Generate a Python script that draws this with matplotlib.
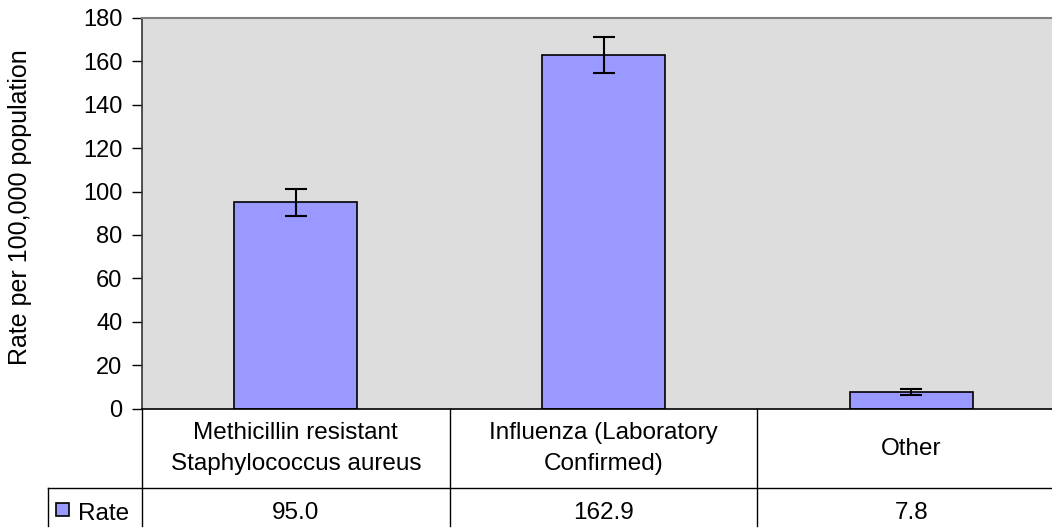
import matplotlib
matplotlib.use("Agg")
import matplotlib.pyplot as plt
from matplotlib.patches import Rectangle

plt.rcParams['font.family'] = ['Liberation Sans', 'DejaVu Sans']

# Data
categories = ["Methicillin resistant\nStaphylococcus aureus",
              "Influenza (Laboratory\nConfirmed)",
              "Other"]
rates = [95.0, 162.9, 7.8]
errors = [6.1, 8.3, 1.4]
rate_labels = ["95.0", "162.9", "7.8"]
yticks = [0, 20, 40, 60, 80, 100, 120, 140, 160, 180]

bar_color = '#9999FF'
bg_color = '#DDDDDD'
fs = 17.5

fig = plt.figure(figsize=(10.52, 5.31), dpi=100)
# axes goes a bit past the right edge, like the original screenshot
ax = fig.add_axes([142/1052, 1 - 408.5/531, 923/1052, 390.5/531])
ax.set_facecolor(bg_color)

x = list(range(len(categories)))
ax.bar(x, rates, width=0.40, color=bar_color, edgecolor='black', linewidth=1.2, zorder=2)
ax.errorbar(x, rates, yerr=errors, fmt='none', ecolor='black', elinewidth=1.5,
            capsize=8, capthick=1.5, zorder=3)

ax.set_xlim(-0.5, 2.5)
ax.set_ylim(0, 180)
ax.set_yticks(yticks)
ax.set_xticks([])
ax.tick_params(axis='y', labelsize=17, length=7, width=1, pad=7, direction='out')
ax.set_ylabel('Rate per 100,000 population', fontsize=18)
ax.yaxis.set_label_coords(-0.119, 0.515)

ax.spines['top'].set_color('#808080')
ax.spines['top'].set_linewidth(1.5)
ax.spines['left'].set_color('#333333')
ax.spines['left'].set_linewidth(1.2)
ax.spines['bottom'].set_color('black')
ax.spines['bottom'].set_linewidth(1.2)
ax.spines['right'].set_visible(False)

# data table under the chart
tr = ax.get_xaxis_transform()
row_line = -0.2036
table_bottom = -0.30
label_left = -0.5 - 94/307.7
for xb in [-0.5, 0.5, 1.5]:
    ax.plot([xb, xb], [0, table_bottom], color='black', lw=1, transform=tr, clip_on=False)
ax.plot([label_left, label_left], [row_line, table_bottom], color='black', lw=1,
        transform=tr, clip_on=False)
ax.plot([label_left, 2.5], [row_line, row_line], color='black', lw=1,
        transform=tr, clip_on=False)

for i, cat in enumerate(categories):
    ax.text(i, -0.103, cat, transform=tr, ha='center', va='center', fontsize=fs,
            linespacing=1.5)
    ax.text(i, -0.2676, rate_labels[i], transform=tr, ha='center', va='center', fontsize=fs)

fig.add_artist(Rectangle((56/1052, 1 - 516/531), 13/1052, 13/531, transform=fig.transFigure,
                         facecolor=bar_color, edgecolor='black', linewidth=1.2))
fig.text(78/1052, 1 - 514/531, 'Rate', ha='left', va='center', fontsize=fs)

fig.savefig('out.png', dpi=100)
